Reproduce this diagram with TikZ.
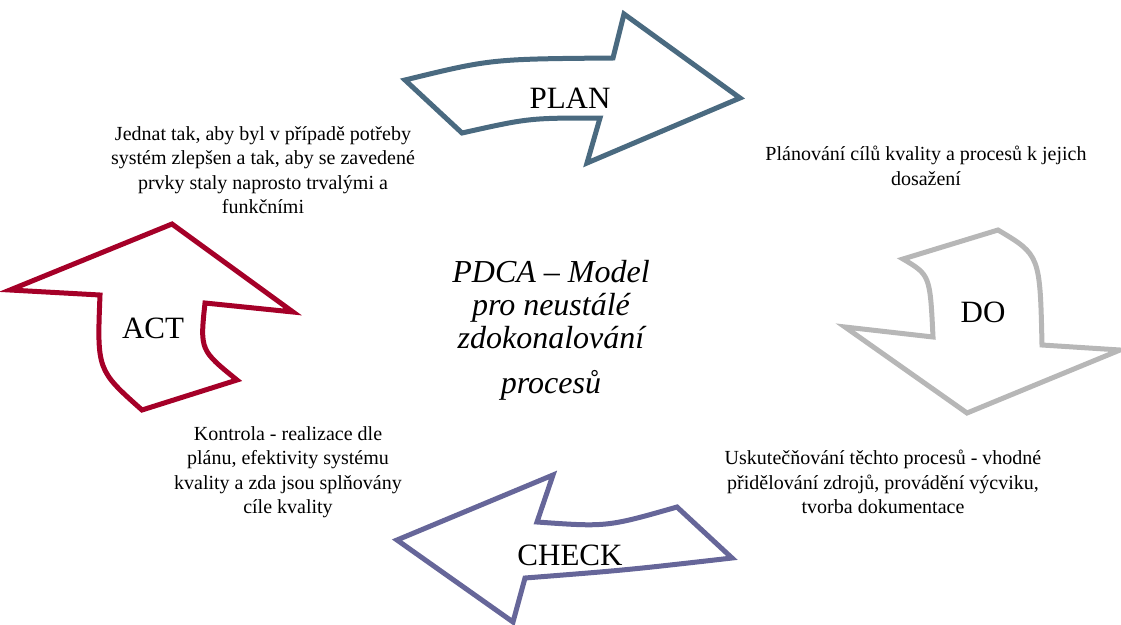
\documentclass[tikz,border=0pt]{standalone}
\usepackage{fontspec}
\setmainfont{Liberation Serif}
\definecolor{planc}{RGB}{74,106,128}
\definecolor{doc}{RGB}{183,183,183}
\definecolor{checkc}{RGB}{102,102,153}
\definecolor{actc}{RGB}{165,0,40}

\begin{document}
\begin{tikzpicture}[x=1pt,y=-1pt,line width=5pt,
  lbl/.style={font=\fontsize{31}{33}\selectfont},
  desc/.style={align=center,font=\fontsize{20}{24.5}\selectfont},
  title/.style={align=center,font=\fontsize{32}{33}\selectfont\itshape}]
%[inner sep=1mm]
\useasboundingbox (0,0) rectangle (1121,624);

% the four block arrows
\draw[planc] (405,80) .. controls (491,59) .. (613,58) -- (624,14) -- (740,98) -- (587,163) -- (600,118) .. controls (529,118) .. (462,133) -- cycle;
\draw[doc] (903,259) -- (998,230) .. controls (1040,255) .. (1042,345) -- (1120,350) -- (967,413) -- (845,327) -- (933,337) .. controls (930,275) .. cycle;
\draw[checkc] (397,540) -- (553,475) -- (537,522) .. controls (607,527) .. (677,507) -- (732,558) .. controls (627,570) .. (525,578) -- (513,622) -- cycle;
\draw[actc] (10,290) -- (172,224) -- (293,312) -- (205,303) .. controls (200,350) .. (237,380) -- (142,410) .. controls (97,370) .. (100,295) -- cycle;

\path (570,98) node (plan) [lbl] {PLAN};
\path (983,312) node (do) [lbl] {DO};
\path (570,555) node (check) [lbl] {CHECK};
\path (153,328) node (act) [lbl] {ACT};

\path (551,330) node (pdca) [title] {PDCA – Model\\pro neustálé\\zdokonalování\\[12pt]procesů};

\path (926,166) node (plantxt) [desc] {Plánování cílů kvality a procesů k jejich\\dosažení};
\path (883,482) node (dotxt) [desc] {Uskutečňování těchto procesů - vhodné\\přidělování zdrojů, provádění výcviku,\\tvorba dokumentace};
\path (288,472) node (checktxt) [desc] {Kontrola - realizace dle\\plánu, efektivity systému\\kvality a zda jsou splňovány\\cíle kvality};
\path (263,170) node (acttxt) [desc] {Jednat tak, aby byl v případě potřeby\\systém zlepšen a tak, aby se zavedené\\prvky staly naprosto trvalými a\\funkčními};

\end{tikzpicture}
\end{document}
